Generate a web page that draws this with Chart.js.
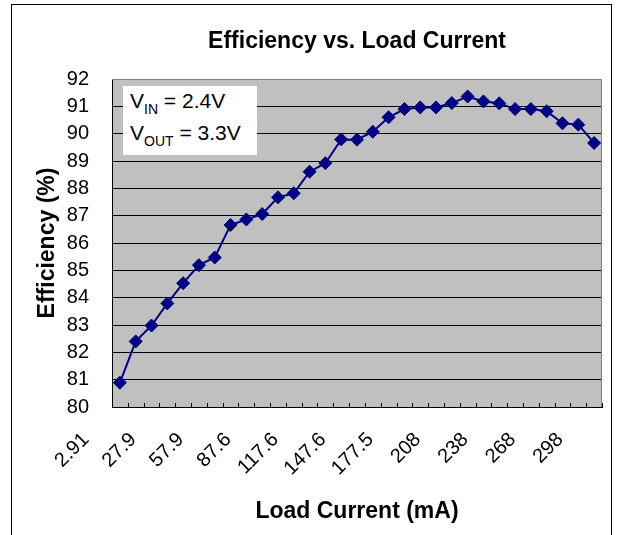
<!DOCTYPE html>
<html>
<head>
<meta charset="utf-8">
<script src="https://cdn.jsdelivr.net/npm/chart.js@4/dist/chart.umd.min.js"></script>
<style>
  html, body { margin: 0; padding: 0; background: #fff; }
  #wrap { position: relative; width: 621px; height: 535px; overflow: hidden; }
  #frame { position: absolute; left: 11px; top: 4px; width: 599px; height: 600px; border: 1px solid #000; pointer-events: none; }
  #note { position: absolute; left: 123px; top: 86px; width: 127px; height: 69px; background: #fff;
          font-family: "Liberation Sans", Arial, sans-serif; font-size: 21px; line-height: 30px; color: #000;
          padding-left: 7px; box-sizing: content-box; }
  #note .sub { font-size: 14px; position: relative; top: 6px; }
</style>
</head>
<body>
<div id="wrap">
  <canvas id="c" width="621" height="535"></canvas>
  <div id="frame"></div>
  <div id="note">V<span class="sub">IN</span> = 2.4V<br>V<span class="sub">OUT</span> = 3.3V</div>
</div>
<script>
const categories = ['2.91','10.4','17.9','27.9','37.9','47.9','57.9','67.8','77.7','87.6','97.6','107.6','117.6','127.6','137.6','147.6','157.6','167.5','177.5','188','198','208','218','228','238','248','258','268','278','288','298'];
const shownLabels = ['2.91','27.9','57.9','87.6','117.6','147.6','177.5','208','238','268','298'];
const efficiency = [80.89, 82.40, 82.98, 83.79, 84.53, 85.19, 85.47, 86.66, 86.86, 87.06, 87.67, 87.82, 88.61, 88.92, 89.79, 89.78, 90.07, 90.60, 90.90, 90.96, 90.96, 91.12, 91.36, 91.18, 91.11, 90.90, 90.90, 90.82, 90.38, 90.33, 89.66];
const yMin = 80, yMax = 92, yStep = 1;

const FONT = '"Liberation Sans", Arial, sans-serif';

const plotDecor = {
  id: 'plotDecor',
  beforeDraw(chart) {
    const {ctx, chartArea: a} = chart;
    ctx.save();
    ctx.fillStyle = '#ffffff';
    ctx.fillRect(0, 0, chart.width, chart.height);
    ctx.fillStyle = '#c0c0c0';
    ctx.fillRect(a.left, a.top, a.right - a.left, a.bottom - a.top);
    ctx.restore();
  },
  beforeDatasetsDraw(chart) {
    const {ctx, chartArea: a, scales} = chart;
    ctx.save();
    ctx.strokeStyle = '#808080';
    ctx.lineWidth = 1;
    ctx.beginPath();
    ctx.moveTo(a.left, Math.round(a.top) + 0.5);
    ctx.lineTo(Math.round(a.right) - 0.5, Math.round(a.top) + 0.5);
    ctx.lineTo(Math.round(a.right) - 0.5, a.bottom);
    ctx.stroke();
    ctx.strokeStyle = '#000';
    ctx.beginPath();
    const x = scales.x;
    for (let i = 0; i <= categories.length; i++) {
      const px = Math.round(x.getPixelForValue(i - 0.5)) + 0.5;
      ctx.moveTo(px, a.bottom);
      ctx.lineTo(px, a.bottom - 4);
    }
    ctx.stroke();
    ctx.restore();
  }
};

new Chart(document.getElementById('c'), {
  type: 'line',
  data: {
    labels: categories,
    datasets: [{
      data: efficiency,
      borderColor: '#000080',
      backgroundColor: '#000080',
      borderWidth: 2,
      pointStyle: 'rectRot',
      pointRadius: 6.5,
      pointBorderWidth: 1,
      pointBorderColor: '#000080',
      pointBackgroundColor: '#000080',
      tension: 0,
      fill: false
    }]
  },
  options: {
    responsive: false,
    animation: false,
    layout: { padding: { left: 0, right: 19, top: 0, bottom: 0 } },
    plugins: {
      legend: { display: false },
      tooltip: { enabled: false },
      title: {
        display: true,
        text: 'Efficiency vs. Load Current',
        fullSize: false,
        color: '#000',
        font: { family: FONT, size: 23, weight: 'bold' },
        padding: { top: 28, bottom: 23.4 }
      }
    },
    scales: {
      x: {
        type: 'category',
        offset: true,
        grid: { display: false, drawTicks: false },
        border: { display: true, color: '#000', width: 1 },
        ticks: {
          autoSkip: false,
          maxRotation: 45,
          minRotation: 45,
          padding: 21,
          labelOffset: -34,
          color: '#000',
          font: { family: FONT, size: 20 },
          callback: function(value, index) {
            const lab = categories[index];
            return shownLabels.includes(lab) ? lab : '';
          }
        },
        title: {
          display: true,
          text: 'Load Current (mA)',
          color: '#000',
          font: { family: FONT, size: 23, weight: 'bold' },
          padding: { top: 0, bottom: 10 }
        },
        afterFit(scale) { scale.height = 128; scale.paddingLeft = 0; scale.paddingRight = 0; }
      },
      y: {
        min: yMin,
        max: yMax,
        grid: {
          drawTicks: false,
          color: (ctx) => (ctx.tick && ctx.tick.value === yMax) ? 'rgba(0,0,0,0)' : '#000',
          lineWidth: 1
        },
        border: { display: true, color: '#000', width: 1 },
        ticks: {
          stepSize: yStep,
          padding: 23,
          color: '#000',
          font: { family: FONT, size: 20 }
        },
        title: {
          display: true,
          text: 'Efficiency (%)',
          color: '#000',
          font: { family: FONT, size: 23, weight: 'bold' },
          padding: { top: 34, bottom: 0 }
        },
        afterFit(scale) { scale.width = 112; scale.paddingTop = 0; scale.paddingBottom = 0; }
      }
    }
  },
  plugins: [plotDecor]
});
</script>
</body>
</html>
